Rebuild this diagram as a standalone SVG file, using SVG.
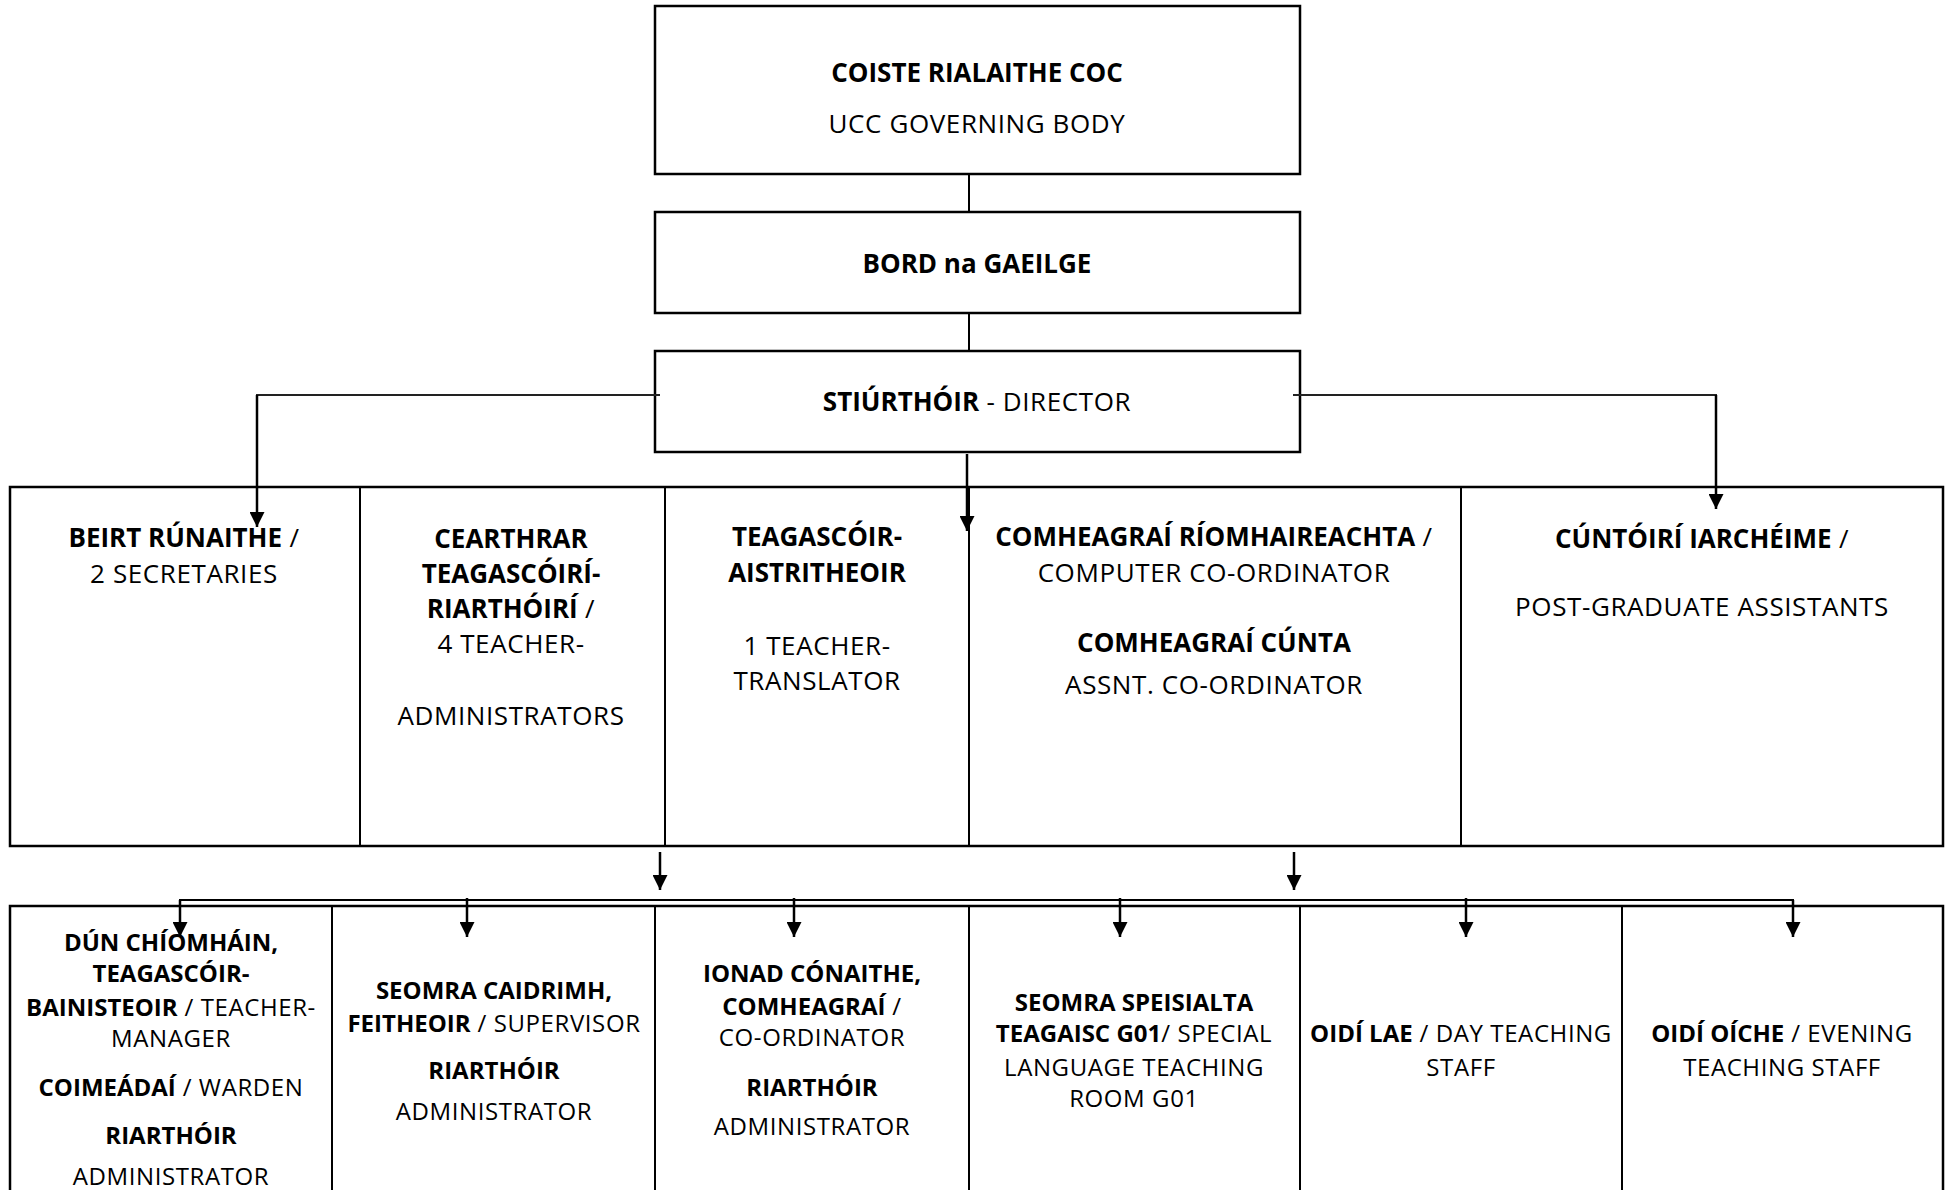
<svg xmlns="http://www.w3.org/2000/svg" width="1949" height="1190" viewBox="0 0 1949 1190">
<style>
text{font-family:'Open Sans','Liberation Sans',sans-serif;font-size:26px;fill:#000;text-anchor:middle;letter-spacing:0.6px}
.b{font-weight:700;letter-spacing:0}
.bot text{font-size:24px}
.box{fill:#fff;stroke:#000;stroke-width:2.5}
.div{stroke:#000;stroke-width:2;fill:none}
.link{stroke:#000;stroke-width:2;fill:none}
.thin{stroke:#222;stroke-width:2;fill:none}
.arr{stroke:#000;stroke-width:2.5;fill:none;marker-end:url(#ah)}
</style>
<defs>
<marker id="ah" viewBox="0 0 15 15" refX="15" refY="7.5" markerWidth="15" markerHeight="15" markerUnits="userSpaceOnUse" orient="auto">
<path d="M0,0 L15,7.5 L0,15 z" fill="#000"/>
</marker>
</defs>

<g id="node-coiste">
<rect class="box" x="655" y="6" width="645" height="168"/>
<text x="977" y="82" class="b">COISTE RIALAITHE COC</text>
<text x="977" y="133">UCC GOVERNING BODY</text>
</g>

<g id="node-bord">
<rect class="box" x="655" y="212" width="645" height="101"/>
<text x="977" y="273" class="b">BORD na GAEILGE</text>
</g>

<g id="node-stiurthoir">
<rect class="box" x="655" y="351" width="645" height="101"/>
<text x="977" y="411"><tspan class="b">STIÚRTHÓIR</tspan> - DIRECTOR</text>
</g>

<g id="row-middle">
<rect class="box" x="10" y="487" width="1933" height="359"/>
<line class="div" x1="360" y1="487" x2="360" y2="846"/>
<line class="div" x1="665" y1="487" x2="665" y2="846"/>
<line class="div" x1="969" y1="487" x2="969" y2="846"/>
<line class="div" x1="1461" y1="487" x2="1461" y2="846"/>
</g>

<g id="node-runaithe">
<text x="184" y="547"><tspan class="b">BEIRT RÚNAITHE</tspan> /</text>
<text x="184" y="583">2 SECRETARIES</text>
</g>

<g id="node-teagascoiri-riarthoiri">
<text x="511" y="548" class="b">CEARTHRAR</text>
<text x="511" y="583" class="b">TEAGASCÓIRÍ-</text>
<text x="511" y="618"><tspan class="b">RIARTHÓIRÍ</tspan> /</text>
<text x="511" y="653">4 TEACHER-</text>
<text x="511" y="725">ADMINISTRATORS</text>
</g>

<g id="node-aistritheoir">
<text x="817" y="546" class="b">TEAGASCÓIR-</text>
<text x="817" y="582" class="b">AISTRITHEOIR</text>
<text x="817" y="655">1 TEACHER-</text>
<text x="817" y="690">TRANSLATOR</text>
</g>

<g id="node-comheagrai">
<text x="1214" y="546"><tspan class="b">COMHEAGRAÍ RÍOMHAIREACHTA</tspan> /</text>
<text x="1214" y="582">COMPUTER CO-ORDINATOR</text>
<text x="1214" y="652" class="b">COMHEAGRAÍ CÚNTA</text>
<text x="1214" y="694">ASSNT. CO-ORDINATOR</text>
</g>

<g id="node-cuntoiri">
<text x="1702" y="548"><tspan class="b">CÚNTÓIRÍ IARCHÉIME</tspan> /</text>
<text x="1702" y="616">POST-GRADUATE ASSISTANTS</text>
</g>

<g id="row-bottom">
<rect class="box" x="10" y="906" width="1933" height="300"/>
<line class="div" x1="332" y1="906" x2="332" y2="1200"/>
<line class="div" x1="655" y1="906" x2="655" y2="1200"/>
<line class="div" x1="969" y1="906" x2="969" y2="1200"/>
<line class="div" x1="1300" y1="906" x2="1300" y2="1200"/>
<line class="div" x1="1622" y1="906" x2="1622" y2="1200"/>
</g>

<g id="node-dun-chiomhain" class="bot">
<text x="171" y="951" class="b">DÚN CHÍOMHÁIN,</text>
<text x="171" y="982" class="b">TEAGASCÓIR-</text>
<text x="171" y="1016"><tspan class="b">BAINISTEOIR</tspan> / TEACHER-</text>
<text x="171" y="1047">MANAGER</text>
<text x="171" y="1096"><tspan class="b">COIMEÁDAÍ</tspan> / WARDEN</text>
<text x="171" y="1144" class="b">RIARTHÓIR</text>
<text x="171" y="1185">ADMINISTRATOR</text>
</g>

<g id="node-seomra-caidrimh" class="bot">
<text x="494" y="999" class="b">SEOMRA CAIDRIMH,</text>
<text x="494" y="1032"><tspan class="b">FEITHEOIR</tspan> / SUPERVISOR</text>
<text x="494" y="1079" class="b">RIARTHÓIR</text>
<text x="494" y="1120">ADMINISTRATOR</text>
</g>

<g id="node-ionad-conaithe" class="bot">
<text x="812" y="982" class="b">IONAD CÓNAITHE,</text>
<text x="812" y="1015"><tspan class="b">COMHEAGRAÍ</tspan> /</text>
<text x="812" y="1046">CO-ORDINATOR</text>
<text x="812" y="1096" class="b">RIARTHÓIR</text>
<text x="812" y="1135">ADMINISTRATOR</text>
</g>

<g id="node-seomra-speisialta" class="bot">
<text x="1134" y="1011" class="b">SEOMRA SPEISIALTA</text>
<text x="1134" y="1042"><tspan class="b">TEAGAISC G01</tspan>/ SPECIAL</text>
<text x="1134" y="1076">LANGUAGE TEACHING</text>
<text x="1134" y="1107">ROOM G01</text>
</g>

<g id="node-oidi-lae" class="bot">
<text x="1461" y="1042"><tspan class="b">OIDÍ LAE</tspan> / DAY TEACHING</text>
<text x="1461" y="1076">STAFF</text>
</g>

<g id="node-oidi-oiche" class="bot">
<text x="1782" y="1042"><tspan class="b">OIDÍ OÍCHE</tspan> / EVENING</text>
<text x="1782" y="1076">TEACHING STAFF</text>
</g>

<g id="connectors">
<line class="link" x1="969" y1="174" x2="969" y2="212"/>
<line class="link" x1="969" y1="313" x2="969" y2="351"/>
<polyline class="thin" points="660,395 257,395 257,400"/>
<line class="arr" x1="257" y1="395" x2="257" y2="527"/>
<polyline class="thin" points="1293,395 1716,395 1716,400"/>
<line class="arr" x1="1716" y1="395" x2="1716" y2="509"/>
<line class="arr" x1="967" y1="454" x2="967" y2="531"/>
<line class="arr" x1="660" y1="852" x2="660" y2="890"/>
<line class="arr" x1="1294" y1="852" x2="1294" y2="890"/>
<polyline class="link" points="180,910 180,900 1793,900 1793,910"/>
<line class="arr" x1="180" y1="900" x2="180" y2="937"/>
<line class="arr" x1="467" y1="898" x2="467" y2="937"/>
<line class="arr" x1="794" y1="898" x2="794" y2="937"/>
<line class="arr" x1="1120" y1="898" x2="1120" y2="937"/>
<line class="arr" x1="1466" y1="898" x2="1466" y2="937"/>
<line class="arr" x1="1793" y1="900" x2="1793" y2="937"/>
</g>
</svg>
